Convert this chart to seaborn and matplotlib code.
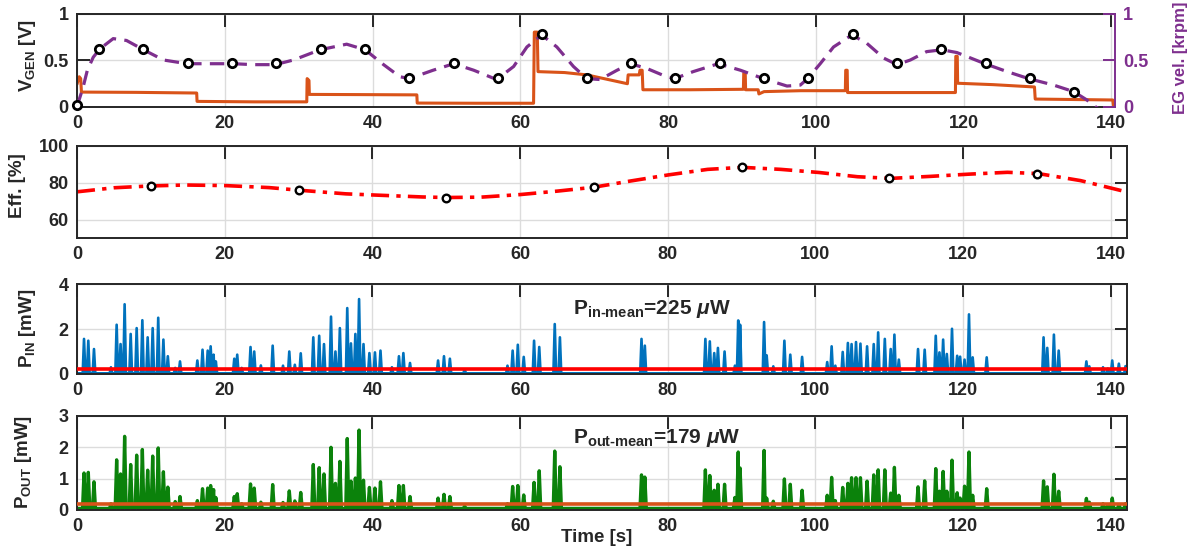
import numpy as np
import pandas as pd
import matplotlib
matplotlib.use('Agg')
import matplotlib.pyplot as plt
import seaborn as sns

# ---------------- data ----------------
# generator voltage (orange), polyline vertices
vgen_t = [0, 0.3, 0.5, 0.6, 8, 16.2, 16.25, 24, 31.1, 31.15, 31.4, 31.45, 38, 46, 46.05, 54, 61.8,
          61.9, 62.3, 62.4, 66, 69, 74.5, 74.6, 76.1, 76.2, 76.5, 76.6, 83, 90.2, 90.25, 90.45,
          90.5, 92.2, 92.3, 93, 98, 104, 104.05, 104.25, 104.3, 112, 118.9, 118.95, 119.15, 119.2,
          124, 129.6, 129.7, 135, 140.2, 140.3, 140.6]
vgen_v = [0.24, 0.32, 0.30, 0.155, 0.152, 0.145, 0.055, 0.05, 0.05, 0.30, 0.28, 0.13, 0.128, 0.125,
          0.037, 0.035, 0.035, 0.80, 0.80, 0.375, 0.365, 0.34, 0.245, 0.34, 0.34, 0.39, 0.39, 0.18,
          0.18, 0.185, 0.36, 0.36, 0.18, 0.18, 0.135, 0.16, 0.17, 0.17, 0.39, 0.39, 0.15, 0.15, 0.15,
          0.54, 0.54, 0.25, 0.235, 0.21, 0.08, 0.075, 0.07, 0.01, 0.01]

# EG velocity curve (purple dashed)
egv_t = [0, 0.8, 1.4, 2.2, 3.1, 4.9, 6.7, 9.0, 11.7, 14.9, 17.6, 21.2, 23.9, 26.8, 29.3, 32.9, 36.5,
         39.0, 41.5, 43.7, 45, 48.2, 51, 53.7, 56.8, 59.1, 60.9, 62.9, 64.95, 67.2, 69, 70.8, 73.1,
         74.9, 77.1, 79.8, 80.9, 83.4, 86.8, 89.8, 92.9, 96.1, 97.9, 98.9, 100.6, 102.4, 104.9,
         106.9, 109.2, 111, 112.8, 115, 117.1, 119.1, 122.9, 125.9, 128.8, 132.2, 134.9, 136.7,
         137.8, 139]
egv_v = [0.0, 0.2, 0.39, 0.53, 0.62, 0.73, 0.71, 0.61, 0.50, 0.46, 0.46, 0.46, 0.45, 0.45, 0.50, 0.61,
         0.67, 0.61, 0.45, 0.32, 0.30, 0.39, 0.46, 0.39, 0.29, 0.43, 0.64, 0.77, 0.64, 0.43, 0.30,
         0.29, 0.39, 0.46, 0.41, 0.32, 0.30, 0.375, 0.46, 0.39, 0.30, 0.22, 0.23, 0.30, 0.46, 0.64,
         0.77, 0.68, 0.52, 0.45, 0.50, 0.59, 0.61, 0.58, 0.46, 0.375, 0.30, 0.23, 0.16, 0.07, 0.0,
         -0.06]
egm_t = [0, 3, 9, 15, 21, 27, 33, 39, 45, 51, 57, 63, 69, 75, 81, 87, 93, 99, 105, 111, 117, 123, 129, 135]
egm_v = [0.02, 0.62, 0.62, 0.47, 0.47, 0.47, 0.62, 0.62, 0.31, 0.47, 0.31, 0.78, 0.31, 0.47, 0.31,
         0.47, 0.31, 0.31, 0.78, 0.47, 0.62, 0.47, 0.31, 0.16]

# efficiency
eff_t = [0, 5, 10, 14.6, 20, 26, 30, 36.4, 40, 46.8, 50, 54.7, 60, 65.1, 70, 75, 80.1, 85.4, 90.1,
         95.3, 100.5, 105.7, 110.2, 115.6, 120.8, 126, 130.2, 135.9, 142.2]
eff_v = [75.1, 77.3, 78.3, 78.8, 78.5, 77.4, 76, 74, 73.4, 72.3, 72.0, 72.2, 73.6, 75.5, 77.6, 81,
         84.3, 87.3, 88.4, 87.3, 85.6, 83.3, 82.4, 83.5, 84.7, 85.7, 85, 81.2, 75]
effm_t = [10, 30, 50, 70, 90, 110, 130]
effm_v = [78.3, 76, 72, 77.6, 88.4, 82.4, 85.0]

# power spikes
spike_t = [0.95, 1.53, 2.3, 4.6, 5.37, 5.9, 6.45, 7.27, 8.08, 8.85, 9.57, 10.25, 11.0, 11.7, 12.3,
           13.3, 13.95, 16.3, 17.0, 17.7, 18.1, 18.5, 18.8, 21.3, 21.7, 22.3, 23.5, 24.0, 24.9,
           26.5, 27.9, 28.75, 29.5, 30.3, 32.0, 32.8, 33.45, 34.4, 35.0, 35.6, 36.6, 37.1, 37.7,
           38.2, 38.8, 39.6, 40.35, 41.1, 42.65, 43.6, 44.2, 45.1, 48.9, 49.7, 50.5, 52.5, 58.3,
           59.0, 59.7, 60.5, 61.9, 62.6, 64.7, 65.4, 76.45, 76.9, 85.1, 85.7, 86.3, 86.8, 87.7,
           89.1, 89.55, 89.8, 93.05, 93.4, 94.3, 95.8, 96.6, 98.2, 101.6, 102.2, 102.7, 103.7,
           104.4, 104.9, 105.5, 106.1, 107.0, 107.9, 108.5, 109.4, 110.2, 110.7, 111.3, 113.9,
           114.8, 116.3, 116.8, 117.3, 117.8, 118.5, 119.2, 119.6, 120.2, 120.8, 121.3, 123.2,
           130.9, 131.4, 132.3, 132.95, 136.7, 137.1, 138.95, 139.6, 140.2, 141.1, 142.0]
pin_h = [1.56, 1.48, 1.11, 0.3, 2.19, 1.33, 3.1, 1.78, 2.04, 2.39, 1.63, 2.04, 2.5, 1.53, 0.79,
         0.27, 0.56, 0.6, 1.08, 1.04, 1.23, 0.86, 0.56, 0.68, 0.86, 0.27, 1.2, 1.0, 0.38,
         1.26, 0.37, 1.0, 0.41, 0.92, 1.63, 1.70, 1.33, 2.55, 1.0, 2.04, 2.93, 1.36, 1.78,
         3.33, 1.33, 0.93, 0.96, 1.04, 0.3, 0.79, 0.93, 0.49, 0.6, 0.79, 0.68, 0.2, 0.37,
         1.04, 1.3, 0.76, 1.48, 1.2, 2.22, 1.63, 1.56, 1.26, 1.56, 1.45, 0.93, 1.16, 1.0,
         0.37, 2.38, 2.19, 2.31, 0.83, 0.34, 1.48, 0.86, 0.76, 0.53, 1.23, 0.37, 0.98,
         1.38, 1.33, 1.42, 1.35, 1.23, 1.33, 1.85, 1.56, 1.11, 1.75, 0.64, 1.11,
         1.08, 1.70, 0.96, 1.53, 0.89, 2.01, 0.81, 0.77, 0.64, 2.65, 0.74, 0.74,
         1.63, 1.16, 1.75, 1.04, 0.56, 0.34, 0.3, 0.24, 0.6, 0.46, 0.35]
pout_h = [1.18, 1.2, 0.9, 0.2, 1.6, 1.15, 2.35, 1.45, 1.75, 1.93, 1.27, 1.72, 1.98, 1.22, 0.73,
          0.27, 0.43, 0.3, 0.68, 0.7, 0.78, 0.65, 0.4, 0.43, 0.52, 0.2, 0.83, 0.7, 0.25,
          0.81, 0.24, 0.61, 0.29, 0.56, 1.45, 1.35, 1.15, 2.0, 0.85, 1.55, 2.28, 0.92, 1.02,
          2.55, 0.95, 0.72, 0.7, 0.9, 0.3, 0.78, 0.78, 0.43, 0.38, 0.5, 0.43, 0.12, 0.2,
          0.75, 0.78, 0.48, 0.88, 1.25, 1.88, 1.38, 1.12, 1.05, 1.28, 1.1, 0.63, 0.82, 0.82,
          0.4, 1.85, 1.34, 1.9, 0.38, 0.28, 0.99, 0.82, 0.63, 0.47, 1.04, 0.3, 0.72,
          0.85, 1.03, 1.03, 1.03, 0.92, 1.12, 1.28, 1.28, 0.54, 1.36, 0.47, 0.74,
          0.93, 1.32, 0.6, 1.23, 0.6, 1.59, 0.55, 0.38, 0.76, 1.85, 0.47, 0.68,
          0.93, 0.74, 1.14, 0.6, 0.37, 0.25, 0.2, 0.16, 0.38, 0.16, 0.2]
pin_base = 0.03
pout_base = 0.05
pin_mean = 0.225   # mW
pout_mean = 0.179  # mW

# ---------------- style ----------------
sns.set_style('white')
plt.rcParams.update({
    'font.family': ['Liberation Sans', 'DejaVu Sans'],
    'font.weight': 'bold',
    'mathtext.fontset': 'custom',
    'mathtext.rm': 'Liberation Sans:bold',
    'mathtext.bf': 'Liberation Sans:bold',
    'mathtext.it': 'Liberation Sans:italic:bold',
    'axes.unicode_minus': False,
})

ORANGE = '#D95319'
PURPLE = '#7E2F8E'
BLUE = '#0072BD'
GREEN = '#0B820B'
RED = '#FF0000'
SPINE = '#262626'
GRID = '#DCDCDC'
TICK_FS = 13
LAB_FS = 13.5

W, H = 1193, 554
fig = plt.figure(figsize=(W / 100, H / 100), dpi=100)


def px_axes(left, top, right, bottom):
    return fig.add_axes([left / W, 1 - bottom / H, (right - left) / W, (bottom - top) / H])


def style(ax, right_ticks=True):
    for s in ax.spines.values():
        s.set_color(SPINE)
        s.set_linewidth(1.4)
    ax.tick_params(direction='in', length=9, width=1.4, top=True, right=right_ticks,
                   labelsize=TICK_FS, color=SPINE, pad=6)
    ax.grid(True, color=GRID, linewidth=1.0)
    ax.set_axisbelow(True)
    ax.set_xticks([0, 20, 40, 60, 80, 100, 120, 140])
    ax.set_xlabel('')
    ax.set_ylabel('')


def spike_frame(times, heights, base, half, tmax):
    xs, ys = [0.0], [base]
    for t, h in zip(times, heights):
        xs += [t - half, t, t + half]
        ys += [base, h, base]
    xs.append(tmax)
    ys.append(base)
    return pd.DataFrame({'t': xs, 'p': ys}).sort_values('t')


# ---- panel 1 ----
ax1 = px_axes(77, 13.5, 1115, 106.5)
vg = pd.DataFrame({'t': vgen_t, 'v': vgen_v})
sns.lineplot(data=vg, x='t', y='v', ax=ax1, color=ORANGE, linewidth=2.2,
             estimator=None, sort=False)
ax1.set_xlim(0, 140.5)
ax1.set_ylim(0, 1)
ax1.set_yticks([0, 0.5, 1])
ax1.set_yticklabels(['0', '0.5', '1'])
style(ax1, right_ticks=False)
ax1.spines['right'].set_visible(False)

ax1r = ax1.twinx()
eg = pd.DataFrame({'t': egv_t, 'v': egv_v})
sns.lineplot(data=eg, x='t', y='v', ax=ax1r, color=PURPLE, linewidth=2.3,
             estimator=None, sort=False, linestyle=(0, (4.5, 2.6)))
sns.scatterplot(x=egm_t, y=egm_v, ax=ax1r, s=36, color='white', edgecolor='black',
                linewidth=2.0, zorder=5, clip_on=False)
ax1r.set_xlim(0, 140.5)
ax1r.set_ylim(0, 1)
ax1r.set_yticks([0, 0.5, 1])
ax1r.set_yticklabels(['0', '0.5', '1'])
for k, s in ax1r.spines.items():
    s.set_visible(k == 'right')
ax1r.spines['right'].set_color(PURPLE)
ax1r.spines['right'].set_linewidth(1.4)
ax1r.tick_params(axis='y', direction='in', length=9, width=1.4, colors=PURPLE,
                 labelsize=TICK_FS, pad=6)
ax1r.set_ylabel('')
ax1r.set_xlabel('')

# ---- panel 2 ----
ax2 = px_axes(77, 146, 1127, 238)
ef = pd.DataFrame({'t': eff_t, 'e': eff_v})
sns.lineplot(data=ef, x='t', y='e', ax=ax2, color=RED, linewidth=2.6,
             estimator=None, sort=False, linestyle=(0, (5, 2, 1.2, 2)))
sns.scatterplot(x=effm_t, y=effm_v, ax=ax2, s=30, color='white', edgecolor='black',
                linewidth=1.7, zorder=5)
ax2.set_xlim(0, 142.2)
ax2.set_ylim(50, 100)
ax2.set_yticks([60, 80, 100])
style(ax2)

# ---- panel 3 ----
ax3 = px_axes(77, 284, 1127, 374)
pin = spike_frame(spike_t, pin_h, pin_base, 0.18, 142.2)
sns.lineplot(data=pin, x='t', y='p', ax=ax3, color=BLUE, linewidth=1.9,
             estimator=None, sort=False)
ax3.axhline(pin_mean, color=RED, linewidth=2.6, zorder=4)
ax3.set_xlim(0, 142.2)
ax3.set_ylim(0, 4)
ax3.set_yticks([0, 2, 4])
style(ax3)
ax3.text(67.2, 2.67, '$\\mathbf{P}_{\\mathbf{in\u2010mean}}$=225 $\\mu$W', fontsize=15,
         fontweight='bold', ha='left', va='baseline')

# ---- panel 4 ----
ax4 = px_axes(77, 416, 1127, 510)
pout = spike_frame(spike_t, pout_h, pout_base, 0.2, 142.2)
sns.lineplot(data=pout, x='t', y='p', ax=ax4, color=GREEN, linewidth=2.4,
             estimator=None, sort=False)
ax4.axhline(pout_mean, color=ORANGE, linewidth=2.6, zorder=4)
ax4.set_xlim(0, 142.2)
ax4.set_ylim(0, 3)
ax4.set_yticks([0, 1, 2, 3])
style(ax4)
ax4.text(67.2, 2.13, '$\\mathbf{P}_{\\mathbf{out\u2010mean}}$=179 $\\mu$W', fontsize=15,
         fontweight='bold', ha='left', va='baseline')

# ---- labels ----
def ftext(x, y, s, **kw):
    fig.text(x / W, 1 - y / H, s, ha='center', va='center', fontweight='bold', **kw)

ftext(27, 56, r'$\mathbf{V}_{\mathbf{GEN}}$ [V]', rotation=90, fontsize=LAB_FS)
ftext(1181, 58, 'EG vel. [krpm]', rotation=90, fontsize=12, color=PURPLE)
ftext(18, 186, 'Eff. [%]', rotation=90, fontsize=LAB_FS)
ftext(28, 328, r'$\mathbf{P}_{\mathbf{IN}}$ [mW]', rotation=90, fontsize=LAB_FS)
ftext(23, 462, r'$\mathbf{P}_{\mathbf{OUT}}$ [mW]', rotation=90, fontsize=LAB_FS)
ftext(597, 538, 'Time [s]', fontsize=LAB_FS)

fig.savefig('out.png', dpi=100)
